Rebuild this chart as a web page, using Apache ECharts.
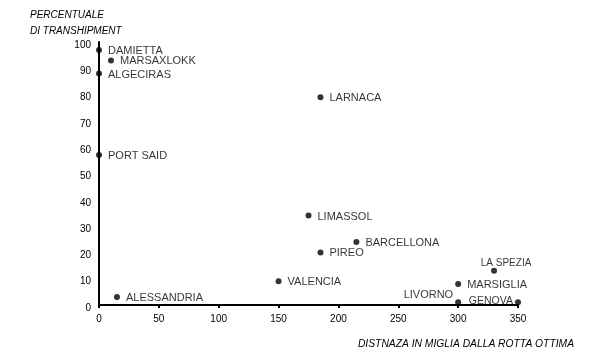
<!DOCTYPE html>
<html><head><meta charset="utf-8">
<script src="https://cdn.jsdelivr.net/npm/echarts@6/dist/echarts.min.js"></script>
<style>html,body{margin:0;padding:0;background:#fff}#c{width:600px;height:360px}</style>
</head><body><div id="c"></div>
<script>
const ports = ["DAMIETTA","MARSAXLOKK","ALGECIRAS","PORT SAID","ALESSANDRIA","LARNACA","LIMASSOL","BARCELLONA","PIREO","VALENCIA","LA SPEZIA","MARSIGLIA","LIVORNO","GENOVA"];
const miles = [0,10,0,0,15,185,175,215,185,150,330,300,300,350];
const transhipment = [97,93,88,57,3,79,34,24,20,9,13,8,1,1];
const xTicks = [0,50,100,150,200,250,300,350];
const yTicks = [0,10,20,30,40,50,60,70,80,90,100];

const font = "'Liberation Sans', Arial, sans-serif";
const labelOverrides = {
  "LA SPEZIA": {position:'top', offset:[12,6], fontSize:10},
  "LIVORNO": {position:'left', offset:[4,-7]},
  "GENOVA": {position:'left', offset:[4,-1], fontSize:10.5}
};
const data = ports.map((p,i)=>{
  const d = {name:p, value:[miles[i], transhipment[i]]};
  if (labelOverrides[p]) d.label = labelOverrides[p];
  return d;
});
const chart = echarts.init(document.getElementById('c'), null, {renderer:'canvas'});
chart.setOption({
  animation:false,
  grid:{left:99, right:82, top:42, bottom:55, containLabel:false},
  xAxis:{type:'value', min:0, max:350, interval:50,
    axisLine:{show:true, onZero:false, lineStyle:{color:'#000', width:2}},
    axisTick:{show:true, length:3, lineStyle:{color:'#000', width:2}},
    axisLabel:{color:'#000', fontFamily:font, fontSize:10, margin:9},
    splitLine:{show:false}},
  yAxis:{type:'value', min:0, max:100, interval:10,
    axisLine:{show:true, onZero:false, lineStyle:{color:'#000', width:2}},
    axisTick:{show:false},
    axisLabel:{color:'#000', fontFamily:font, fontSize:10, margin:8,
      formatter:'{a|{value}}',
      rich:{a:{fontFamily:font, fontSize:10, color:'#000', padding:[6,0,0,0]}}},
    splitLine:{show:false}},
  graphic:[
    {type:'text', left:30, top:10, style:{text:'PERCENTUALE', font:'italic 10px '+font, fill:'#000'}},
    {type:'text', left:30, top:26, style:{text:'DI TRANSHIPMENT', font:'italic 10px '+font, fill:'#000'}},
    {type:'text', right:26, top:339, style:{text:'DISTNAZA IN MIGLIA DALLA ROTTA OTTIMA', font:'italic 10.3px '+font, fill:'#000'}}
  ],
  series:[{type:'scatter', symbol:'circle', symbolSize:6,
    itemStyle:{color:'#000'},
    clip:false,
    label:{show:true, position:'right', formatter:'{b}', color:'#000', fontFamily:font, fontSize:11, distance:6, offset:[0,1]},
    data:data}]
});
</script></body></html>
